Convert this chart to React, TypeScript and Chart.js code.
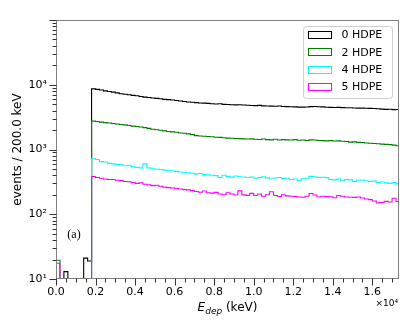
import React, { useEffect, useRef } from "react";
import { Chart, registerables } from "chart.js";

Chart.register(...registerables);

// ---- data ----
const BIN_WIDTH = 200; // keV per bin, bins start at 0 keV
const X_MIN = 0;
const X_MAX = 17350;
const Y_MIN = 10;
const Y_MAX = 1e5;
const FLOOR = 1e-3; // stands in for empty bins on the log axis

const seriesLabels = ["0 HDPE", "2 HDPE", "4 HDPE", "5 HDPE"];
const seriesColors = ["#000000", "#008000", "#00ffff", "#ff00ff"];

const xTickValues = [0, 2000, 4000, 6000, 8000, 10000, 12000, 14000, 16000];
const yTickValues = [10, 100, 1000, 10000];

// bins 0..8 (0 - 1800 keV)
const low0 = [0, 0, 13, 0, 0, 10.2, 0, 21, 19];
const low2 = [19.5, 0, 0, 0, 0, 0, 0, 0, 0];
const low4 = [0, 0, 0, 0, 0, 0, 0, 0, 0];
const low5 = [17.5, 0, 0, 0, 0, 0, 0, 0, 0];

// bins from 1800 keV onward
const main0 = [
  8650, 8480, 8300, 8050, 7850, 7700, 7480, 7250, 7150, 7000,
  6850, 6780, 6600, 6450, 6350, 6250, 6150, 6080, 5950, 5900,
  5820, 5700, 5620, 5500, 5420, 5380, 5300, 5230, 5200, 5150,
  5100, 5050, 5080, 4980, 4950, 4920, 4880, 4900, 4860, 4820,
  4790, 4760, 4800, 4720, 4700, 4680, 4650, 4690, 4610, 4590,
  4580, 4560, 4520, 4510, 4540, 4600, 4620, 4580, 4550, 4500,
  4480, 4460, 4470, 4430, 4410, 4420, 4380, 4360, 4350, 4340,
  4310, 4290, 4250, 4200, 4160, 4180, 4130, 4150,
];
const main2 = [
  2740, 2700, 2650, 2600, 2560, 2520, 2480, 2430, 2400, 2350,
  2300, 2260, 2230, 2180, 2120, 2060, 2020, 1980, 1940, 1900,
  1870, 1850, 1800, 1780, 1740, 1700, 1640, 1620, 1600, 1590,
  1570, 1550, 1540, 1520, 1500, 1490, 1480, 1470, 1460, 1450,
  1460, 1440, 1430, 1450, 1420, 1410, 1440, 1400, 1420, 1410,
  1400, 1420, 1390, 1400, 1380, 1410, 1400, 1380, 1370, 1360,
  1370, 1350, 1360, 1340, 1330, 1300, 1310, 1290, 1280, 1260,
  1250, 1240, 1230, 1210, 1200, 1190, 1170, 1140,
];
const main4 = [
  716, 700, 650, 640, 610, 600, 590, 578, 560, 570,
  540, 530, 520, 600, 520, 505, 500, 490, 480, 470,
  470, 460, 450, 445, 435, 430, 420, 425, 410, 405,
  400, 395, 370, 400, 385, 375, 390, 380, 377, 370,
  375, 360, 368, 380, 365, 350, 362, 370, 355, 360,
  345, 350, 330, 352, 360, 385, 380, 370, 372, 368,
  345, 340, 350, 330, 345, 340, 320, 335, 338, 330,
  320, 325, 310, 315, 305, 300, 310, 294,
];
const main5 = [
  381, 370, 360, 350, 345, 345, 335, 331, 320, 318,
  310, 300, 305, 290, 285, 277, 280, 270, 262, 258,
  255, 250, 245, 240, 238, 232, 225, 219, 228, 215,
  212, 218, 205, 200, 215, 205, 198, 230, 199, 196,
  210, 195, 205, 190, 200, 222, 195, 188, 200, 192,
  190, 188, 185, 183, 190, 209, 198, 185, 190, 188,
  186, 180, 195, 190, 185, 183, 182, 185, 178, 172,
  168, 160, 150, 152, 158, 155, 177, 157,
];

const hdpe0 = [...low0, ...main0];
const hdpe2 = [...low2, ...main2];
const hdpe4 = [...low4, ...main4];
const hdpe5 = [...low5, ...main5];
const seriesValues = [hdpe0, hdpe2, hdpe4, hdpe5];

const SUP: Record<number, string> = { 1: "\u00b9", 2: "\u00b2", 3: "\u00b3", 4: "\u2074", 5: "\u2075" };
const FONT = "'DejaVu Sans', 'Noto Sans', sans-serif";

function toPoints(values: number[]) {
  const pts: { x: number; y: number }[] = [{ x: 0, y: FLOOR }];
  values.forEach((v, i) => pts.push({ x: i * BIN_WIDTH, y: v > 0 ? v : FLOOR }));
  const last = values[values.length - 1];
  pts.push({ x: values.length * BIN_WIDTH, y: last > 0 ? last : FLOOR });
  return pts;
}

const decorPlugin = {
  id: "decor",
  afterDraw(chart: any) {
    const { ctx, chartArea: a, scales } = chart;
    const xs = scales.x;
    const ys = scales.y;
    ctx.save();

    // frame
    ctx.strokeStyle = "#808080";
    ctx.lineWidth = 1;
    ctx.strokeRect(a.left + 0.5, a.top + 0.5, a.right - a.left - 1, a.bottom - a.top - 1);

    // y ticks (outside, left)
    ctx.strokeStyle = "#333333";
    ctx.beginPath();
    for (let e = 1; e <= 4; e++) {
      for (let k = 1; k <= 9; k++) {
        const v = k * Math.pow(10, e);
        const py = Math.round(ys.getPixelForValue(v)) + 0.5;
        const len = k === 1 ? 7 : 4;
        ctx.moveTo(a.left + 0.5, py);
        ctx.lineTo(a.left + 0.5 - len, py);
      }
    }
    {
      const py = Math.round(ys.getPixelForValue(1e5)) + 0.5;
      ctx.moveTo(a.left + 0.5, py);
      ctx.lineTo(a.left + 0.5 - 7, py);
    }
    // x ticks (outside, below)
    for (let v = 0; v <= X_MAX; v += 500) {
      const px = Math.round(xs.getPixelForValue(v)) + 0.5;
      const len = v % 2000 === 0 ? 7 : 4;
      ctx.moveTo(px, a.bottom - 0.5);
      ctx.lineTo(px, a.bottom - 0.5 + len);
    }
    ctx.stroke();

    ctx.fillStyle = "#000";
    // y title
    ctx.save();
    ctx.translate(18, (a.top + a.bottom) / 2);
    ctx.rotate(-Math.PI / 2);
    ctx.font = `12px ${FONT}`;
    ctx.textAlign = "center";
    ctx.textBaseline = "middle";
    ctx.fillText("events / 200.0 keV", 0, 0);
    ctx.restore();

    // x title: E_dep (keV)
    const fMain = `italic 12px ${FONT}`;
    const fSub = `italic 9px ${FONT}`;
    const fRest = `12px ${FONT}`;
    ctx.font = fMain;
    const wE = ctx.measureText("E").width;
    ctx.font = fSub;
    const wSub = ctx.measureText("dep").width;
    ctx.font = fRest;
    const wRest = ctx.measureText(" (keV)").width;
    const total = wE + wSub + wRest;
    let sx = (a.left + a.right) / 2 - total / 2;
    const base = 311;
    ctx.textAlign = "left";
    ctx.textBaseline = "alphabetic";
    ctx.font = fMain;
    ctx.fillText("E", sx, base);
    sx += wE;
    ctx.font = fSub;
    ctx.fillText("dep", sx, base + 2.5);
    sx += wSub;
    ctx.font = fRest;
    ctx.fillText(" (keV)", sx, base);

    // x multiplier
    ctx.font = `9px ${FONT}`;
    ctx.textAlign = "right";
    ctx.textBaseline = "middle";
    ctx.fillText("\u00d710\u2074", a.right - 1, 304);

    // (a) label
    ctx.font = `12px 'Liberation Serif', 'DejaVu Serif', serif`;
    ctx.textAlign = "center";
    ctx.textBaseline = "middle";
    ctx.fillText("(a)", 74, 235);

    // legend
    const bx = 303.5, by = 26.5, bw = 89, bh = 72, r = 3;
    ctx.beginPath();
    ctx.moveTo(bx + r, by);
    ctx.lineTo(bx + bw - r, by);
    ctx.arcTo(bx + bw, by, bx + bw, by + r, r);
    ctx.lineTo(bx + bw, by + bh - r);
    ctx.arcTo(bx + bw, by + bh, bx + bw - r, by + bh, r);
    ctx.lineTo(bx + r, by + bh);
    ctx.arcTo(bx, by + bh, bx, by + bh - r, r);
    ctx.lineTo(bx, by + r);
    ctx.arcTo(bx, by, bx + r, by, r);
    ctx.closePath();
    ctx.fillStyle = "rgba(255,255,255,0.8)";
    ctx.fill();
    ctx.strokeStyle = "#d0d0d0";
    ctx.lineWidth = 1;
    ctx.stroke();

    ctx.font = `11px ${FONT}`;
    ctx.textAlign = "left";
    ctx.textBaseline = "middle";
    seriesLabels.forEach((label, i) => {
      const ry = 35 + i * 17.33;
      ctx.strokeStyle = seriesColors[i];
      ctx.lineWidth = 1;
      ctx.strokeRect(308.5, Math.round(ry) - 3.5, 23, 7);
      ctx.fillStyle = "#000";
      ctx.fillText(label, 341.5, ry + 0.5);
    });

    ctx.restore();
  },
};

export default function App() {
  const ref = useRef<HTMLCanvasElement | null>(null);

  useEffect(() => {
    document.body.style.margin = "0";
    const canvas = ref.current;
    if (!canvas) return;
    Chart.defaults.font.family = FONT;
    Chart.defaults.font.size = 11;
    Chart.defaults.color = "#000";

    const datasets = seriesValues.map((vals, i) => ({
      label: seriesLabels[i],
      data: toPoints(vals),
      borderColor: seriesColors[i],
      backgroundColor: seriesColors[i],
      borderWidth: 1.1,
      pointRadius: 0,
      fill: false,
      stepped: "before" as const,
      tension: 0,
      order: seriesValues.length - 1 - i,
    }));

    const chart = new Chart(canvas, {
      type: "line",
      data: { datasets },
      options: {
        animation: false,
        responsive: false,
        devicePixelRatio: 1,
        events: [],
        layout: { padding: { top: 20, right: 20, left: 0, bottom: 0 } },
        plugins: {
          legend: { display: false },
          tooltip: { enabled: false },
        },
        scales: {
          x: {
            type: "linear",
            min: X_MIN,
            max: X_MAX,
            grid: { display: false, drawTicks: false },
            border: { display: false },
            afterBuildTicks: (scale: any) => {
              scale.ticks = xTickValues.map((v) => ({ value: v }));
            },
            afterFit: (scale: any) => {
              scale.height = 48;
            },
            ticks: {
              autoSkip: false,
              maxRotation: 0,
              padding: 7,
              font: { size: 11, family: FONT },
              color: "#000",
              callback: (v: any) => (Number(v) / 1e4).toFixed(1),
            },
          },
          y: {
            type: "logarithmic",
            min: Y_MIN,
            max: Y_MAX,
            grid: { display: false, drawTicks: false },
            border: { display: false },
            afterBuildTicks: (scale: any) => {
              scale.ticks = yTickValues.map((v) => ({ value: v }));
            },
            afterFit: (scale: any) => {
              scale.width = 56;
            },
            ticks: {
              autoSkip: false,
              padding: 9,
              font: { size: 11, family: FONT },
              color: "#000",
              callback: (v: any) => "10" + SUP[Math.round(Math.log10(Number(v)))],
            },
          },
        },
      },
      plugins: [decorPlugin],
    });

    return () => chart.destroy();
  }, []);

  return <canvas ref={ref} width={419} height={327} style={{ display: "block" }} />;
}
